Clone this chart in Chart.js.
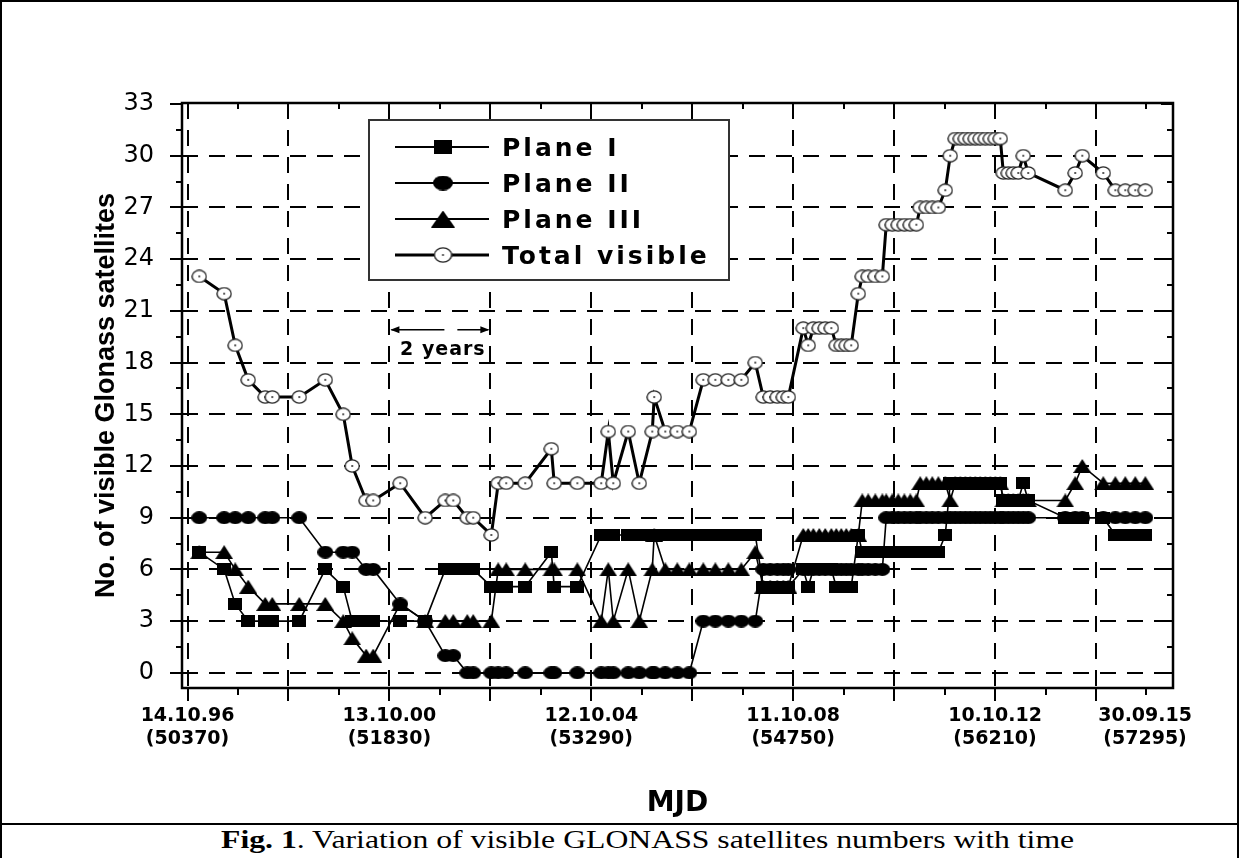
<!DOCTYPE html>
<html><head><meta charset="utf-8">
<script src="https://cdn.jsdelivr.net/npm/chart.js@4.4.0/dist/chart.umd.min.js"></script>
<style>
html,body{margin:0;padding:0;background:#fff;}
#wrap{position:relative;width:1239px;height:858px;overflow:hidden;background:#fff;}
#cv{position:absolute;left:0;top:0;}
#frame{position:absolute;left:0;top:0;width:1239px;height:858px;box-sizing:border-box;border:2px solid #000;border-bottom:none;pointer-events:none;}
#cap{position:absolute;left:0;top:823px;width:1239px;height:35px;border-top:2px solid #000;box-sizing:border-box;font-family:"Liberation Serif","Times New Roman",serif;font-size:26px;line-height:29px;white-space:nowrap;color:#000;}
#cap span{position:absolute;left:221px;top:0;transform:scaleX(1.22);transform-origin:0 50%;}
</style></head>
<body>
<div id="wrap">
<canvas id="cv" width="1239" height="823"></canvas>
<div id="cap"><span><b>Fig. 1</b>. Variation of visible GLONASS satellites numbers with time</span></div>
<div id="frame"></div>
</div>
<script>
// ---- data (MJD epochs and visible satellite counts) ----
const mjd = [50455,50635,50715,50809,50932,50983,51178,51366,51496,51561,
51662,51713,51908,52089,52234,52292,52393,52436,52567,52617,
52675,52812,53001,53022,53189,53362,53413,53449,53557,53637,
53731,53745,53825,53912,53999,54100,54187,54281,54375,54476,
54534,54584,54635,54679,54715,54823,54859,54896,54939,54982,
55026,55062,55098,55134,55170,55221,55250,55293,55344,55395,
55423,55467,55510,55554,55597,55641,55669,55713,55756,55800,
55850,55886,55922,55959,55995,56031,56067,56103,56140,56176,
56212,56248,56270,56306,56342,56378,56414,56450,56718,56790,
56841,56993,57080,57152,57224,57297];
const planeI = [7,6,4,3,3,3,3,6,5,3, 3,3,3,3,6,6,6,6,5,5, 5,5,7,5,5,8,8,8,8,8,
8,8,8,8,8,8,8,8,8,8, 5,5,5,5,5,6,5,6,6,6, 6,5,5,5,5,8,7,7,7,7, 7,7,7,7,7,7,7,7,7,7,
8,11,11,11,11,11,11,11,11,11, 11,11,10,10,10,10,11,10,9,9, 9,9,8,8,8,8];
const planeII = [9,9,9,9,9,9,9,7,7,7, 6,6,4,3,1,1,0,0,0,0, 0,0,0,0,0,0,0,0,0,0,
0,0,0,0,0,3,3,3,3,3, 6,6,6,6,6,6,6,6,6,6, 6,6,6,6,6,6,6,6,6,6, 9,9,9,9,9,9,9,9,9,9,
9,9,9,9,9,9,9,9,9,9, 9,9,9,9,9,9,9,9,9,9, 9,9,9,9,9,9];
const planeIII = [7,7,6,5,4,4,4,4,3,2, 1,1,4,3,3,3,3,3,3,6, 6,6,6,6,6,3,6,3,6,3,
6,8,6,6,6,6,6,6,6,7, 5,5,5,5,5,8,8,8,8,8, 8,8,8,8,8,8,10,10,10,10, 10,10,10,10,10,10,11,11,11,11,
11,10,11,11,11,11,11,11,11,11, 11,11,10,10,10,10,10,10,10,11, 12,11,11,11,11,11];
const totalVisible = [23,22,19,17,16,16,16,17,15,12, 10,10,11,9,10,10,9,9,8,11, 11,11,13,11,11,11,14,11,14,11,
14,16,14,14,14,17,17,17,17,18, 16,16,16,16,16,20,19,20,20,20, 20,19,19,19,19,22,23,23,23,23,
26,26,26,26,26,26,27,27,27,27, 28,30,31,31,31,31,31,31,31,31, 31,31,29,29,29,29,30,29,28,29, 30,29,28,28,28,28];
const seriesNames = ['Plane I','Plane II','Plane III','Total visible'];

// ---- axis ticks / labels ----
const xLabelMJD = [50370,51830,53290,54750,56210,57295];
const xLabelDate = ['14.10.96','13.10.00','12.10.04','11.10.08','10.10.12','30.09.15'];
const xGridMJD = [50370,51100,51830,52560,53290,54020,54750,55480,56210,56940];
const xTickMarks = []; for (let v = 50370; v <= 57400; v += 365) xTickMarks.push(v);
const yTickValues = [0,3,6,9,12,15,18,21,24,27,30,33];
const yTickMarks = []; for (let v = 0; v <= 33; v += 1.5) yTickMarks.push(v);

// ---- marker images ----
function mk(w,h,draw){const c=document.createElement('canvas');c.width=w;c.height=h;draw(c.getContext('2d'),w,h);return c;}
function sqM(w,h){return mk(w,h,(g)=>{g.fillStyle='#000';g.fillRect(0,0,w,h);});}
function dotM(w,h){return mk(w,h,(g)=>{g.fillStyle='#000';g.beginPath();g.ellipse(w/2,h/2,w/2,h/2,0,0,Math.PI*2);g.fill();});}
function triM(w,h){return mk(w,h,(g)=>{g.fillStyle='#000';g.beginPath();g.moveTo(w/2,0);g.lineTo(w,h);g.lineTo(0,h);g.closePath();g.fill();});}
function ringM(w,h){return mk(w,h,(g)=>{g.fillStyle='#fff';g.strokeStyle='#222';g.lineWidth=1.3;g.beginPath();g.ellipse(w/2,h/2,w/2-0.9,h/2-0.9,0,0,Math.PI*2);g.fill();g.stroke();g.fillStyle='#000';g.fillRect(w/2-0.8,h/2-0.8,1.6,1.6);});}
const markers = [sqM(14,12), dotM(16,13), triM(18,14), ringM(16,14)];
const legendMarkers = [sqM(18,14), dotM(20,15), triM(24,17), ringM(19,16)];

function pts(arr){return mjd.map((m,i)=>({x:m,y:arr[i]}));}
const values = [planeI, planeII, planeIII, totalVisible];

const axisDecor = {
  id:'axisDecor',
  afterDatasetsDraw(chart){
    const ctx = chart.ctx, ca = chart.chartArea, xs = chart.scales.x, ys = chart.scales.y;
    ctx.save();
    ctx.setLineDash([]);
    ctx.strokeStyle = '#000';
    ctx.lineWidth = 2;
    ctx.beginPath();
    yTickMarks.forEach(v=>{
      const py = Math.round(ys.getPixelForValue(v));
      const L = (v % 3 === 0) ? 12 : 6;
      ctx.moveTo(ca.left - L, py); ctx.lineTo(ca.left, py);
      ctx.moveTo(ca.right - L, py); ctx.lineTo(ca.right, py);
    });
    xTickMarks.forEach((v,k)=>{
      const px = Math.round(xs.getPixelForValue(v));
      const major = k % 2 === 0;
      ctx.moveTo(px, ca.bottom); ctx.lineTo(px, ca.bottom + (major ? 13 : 7));
      ctx.moveTo(px, ca.top); ctx.lineTo(px, ca.top + (major ? 12 : 6));
    });
    ctx.stroke();
    ctx.lineWidth = 2.5;
    ctx.strokeRect(ca.left, ca.top, ca.right - ca.left, ca.bottom - ca.top);

    // "2 years" span annotation
    const ay = ys.getPixelForValue(19.9);
    const x1 = xs.getPixelForValue(51830), x2 = xs.getPixelForValue(52560);
    ctx.lineWidth = 1.5;
    ctx.beginPath();
    ctx.moveTo(x1 + 2, ay); ctx.lineTo(x1 + 55, ay);
    ctx.moveTo(x2 - 33, ay); ctx.lineTo(x2 - 2, ay);
    ctx.stroke();
    ctx.fillStyle = '#000';
    ctx.beginPath();
    ctx.moveTo(x1 + 1, ay); ctx.lineTo(x1 + 10, ay - 3.5); ctx.lineTo(x1 + 10, ay + 3.5); ctx.closePath();
    ctx.moveTo(x2 - 1, ay); ctx.lineTo(x2 - 10, ay - 3.5); ctx.lineTo(x2 - 10, ay + 3.5); ctx.closePath();
    ctx.fill();
    ctx.font = 'bold 19px "DejaVu Sans"';
    try { ctx.letterSpacing = '1px'; } catch(e) {}
    ctx.textAlign = 'center'; ctx.textBaseline = 'middle';
    ctx.fillText('2 years', (x1 + x2) / 2 + 3, ys.getPixelForValue(18.75));
    ctx.restore();
  },
  afterDraw(chart){
    const ctx = chart.ctx;
    ctx.save();
    const bx = 369, by = 120, bw = 360, bh = 160;
    ctx.fillStyle = '#fff';
    ctx.fillRect(bx, by, bw, bh);
    ctx.strokeStyle = '#333'; ctx.lineWidth = 2; ctx.setLineDash([]);
    ctx.strokeRect(bx, by, bw, bh);
    const rows = [147, 183, 219, 255];
    ctx.font = 'bold 25px "DejaVu Sans"';
    try { ctx.letterSpacing = '3px'; } catch(e) {}
    ctx.textAlign = 'left'; ctx.textBaseline = 'alphabetic';
    seriesNames.forEach((name, i) => {
      const y = rows[i];
      ctx.strokeStyle = '#000';
      ctx.lineWidth = i === 3 ? 3 : 2;
      ctx.beginPath(); ctx.moveTo(395, y); ctx.lineTo(489, y); ctx.stroke();
      const m = legendMarkers[i];
      ctx.drawImage(m, 443 - m.width / 2, y - m.height / 2);
      ctx.fillStyle = '#000';
      ctx.fillText(name, 502, y + 9);
    });
    ctx.restore();
  }
};

const datasets = seriesNames.map((name, i) => ({
  label: name,
  data: pts(values[i]),
  borderColor: '#000',
  backgroundColor: '#000',
  borderWidth: i === 3 ? 3 : 1.6,
  pointStyle: markers[i],
  pointRadius: 7,
  pointHoverRadius: 7,
  tension: 0,
  fill: false
}));

Chart.defaults.font.family = '"DejaVu Sans"';
Chart.defaults.color = '#000';

new Chart(document.getElementById('cv'), {
  type: 'line',
  data: { datasets },
  options: {
    responsive: false,
    devicePixelRatio: 1,
    animation: false,
    events: [],
    layout: { padding: { left: 0, top: 103, right: 66, bottom: 0 } },
    plugins: { legend: { display: false }, tooltip: { enabled: false } },
    scales: {
      x: {
        type: 'linear', min: 50330, max: 57497, bounds: 'data',
        afterBuildTicks: s => { s.ticks = xGridMJD.concat([57295]).map(v => ({ value: v })); },
        afterFit: s => { s.height = 135; },
        grid: {
          drawTicks: false, lineWidth: 2, borderDash: [16, 11],
          color: c => (c.tick && xGridMJD.includes(c.tick.value)) ? '#000' : 'rgba(0,0,0,0)'
        },
        border: { display: false, dash: [16, 11] },
        ticks: {
          autoSkip: false, maxRotation: 0, minRotation: 0, padding: 17, color: '#000',
          font: { family: '"DejaVu Sans"', weight: 'bold', size: 19 },
          callback: v => { const i = xLabelMJD.indexOf(v); return i >= 0 ? [xLabelDate[i], '(' + v + ')'] : ''; }
        },
        title: { display: true, text: 'MJD', color: '#000', font: { family: '"DejaVu Sans"', weight: 'bold', size: 28 }, padding: { top: 0, bottom: 2 } }
      },
      y: {
        min: -0.88, max: 33.06, bounds: 'data',
        afterBuildTicks: s => { s.ticks = yTickValues.map(v => ({ value: v })); },
        afterFit: s => { s.width = 182; },
        grid: {
          drawTicks: false, lineWidth: 2, borderDash: [16, 11],
          color: c => (c.tick && c.tick.value < 33) ? '#000' : 'rgba(0,0,0,0)'
        },
        border: { display: false, dash: [16, 11] },
        ticks: { padding: 28, color: '#000', font: { family: '"DejaVu Sans"', size: 24 }, callback: v => String(v) },
        title: { display: true, text: 'No. of visible Glonass satellites', color: '#000', font: { family: '"Liberation Sans"', weight: 'bold', size: 27 }, padding: { top: 90, bottom: 0 } }
      }
    }
  },
  plugins: [axisDecor]
});
</script>
</body></html>
